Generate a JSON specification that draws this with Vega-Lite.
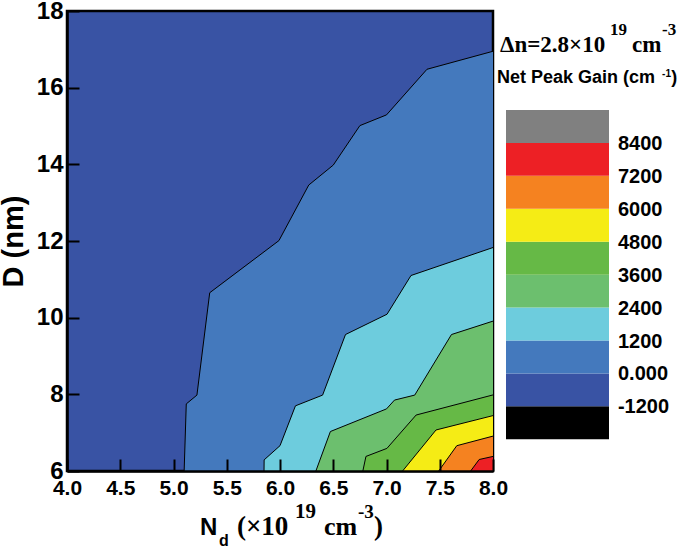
{
  "$schema": "https://vega.github.io/schema/vega-lite/v6.json",
  "width": 426,
  "height": 460,
  "autosize": "none",
  "padding": {"left": 67, "top": 11, "right": 192, "bottom": 77},
  "background": "white",
  "config": {
    "view": {"fill": "#3953A4", "stroke": "black", "strokeWidth": 2.5},
    "text": {"color": "black"}
  },
  "datasets": {
    "contours": [
      {"lvl": 0, "x": 5.10, "y": 6},
      {"lvl": 0, "x": 5.12, "y": 7.75},
      {"lvl": 0, "x": 5.22, "y": 7.98},
      {"lvl": 0, "x": 5.34, "y": 10.65},
      {"lvl": 0, "x": 5.99, "y": 12.01},
      {"lvl": 0, "x": 6.27, "y": 13.46},
      {"lvl": 0, "x": 6.50, "y": 13.98},
      {"lvl": 0, "x": 6.75, "y": 15.01},
      {"lvl": 0, "x": 7.00, "y": 15.29},
      {"lvl": 0, "x": 7.38, "y": 16.48},
      {"lvl": 0, "x": 8.00, "y": 16.95},
      {"lvl": 1200, "x": 5.85, "y": 6},
      {"lvl": 1200, "x": 5.851, "y": 6.29},
      {"lvl": 1200, "x": 6.00, "y": 6.66},
      {"lvl": 1200, "x": 6.145, "y": 7.70},
      {"lvl": 1200, "x": 6.40, "y": 7.98},
      {"lvl": 1200, "x": 6.615, "y": 9.56},
      {"lvl": 1200, "x": 7.005, "y": 10.09},
      {"lvl": 1200, "x": 7.23, "y": 11.10},
      {"lvl": 1200, "x": 8.00, "y": 11.83},
      {"lvl": 2400, "x": 6.337, "y": 6},
      {"lvl": 2400, "x": 6.473, "y": 7.03},
      {"lvl": 2400, "x": 7.00, "y": 7.62},
      {"lvl": 2400, "x": 7.075, "y": 7.85},
      {"lvl": 2400, "x": 7.265, "y": 7.98},
      {"lvl": 2400, "x": 7.61, "y": 9.56},
      {"lvl": 2400, "x": 8.00, "y": 9.91},
      {"lvl": 3600, "x": 6.778, "y": 6},
      {"lvl": 3600, "x": 6.807, "y": 6.38},
      {"lvl": 3600, "x": 7.004, "y": 6.59},
      {"lvl": 3600, "x": 7.278, "y": 7.46},
      {"lvl": 3600, "x": 8.00, "y": 7.985},
      {"lvl": 4800, "x": 7.151, "y": 6},
      {"lvl": 4800, "x": 7.465, "y": 7.07},
      {"lvl": 4800, "x": 8.00, "y": 7.445},
      {"lvl": 6000, "x": 7.49, "y": 6},
      {"lvl": 6000, "x": 7.66, "y": 6.66},
      {"lvl": 6000, "x": 8.00, "y": 6.91},
      {"lvl": 7200, "x": 7.79, "y": 6},
      {"lvl": 7200, "x": 7.87, "y": 6.30},
      {"lvl": 7200, "x": 8.00, "y": 6.38}
    ],
    "bands": [
      {"lvl": -2400, "hi": -1200},
      {"lvl": -1200, "hi": 0},
      {"lvl": 0, "hi": 1200},
      {"lvl": 1200, "hi": 2400},
      {"lvl": 2400, "hi": 3600},
      {"lvl": 3600, "hi": 4800},
      {"lvl": 4800, "hi": 6000},
      {"lvl": 6000, "hi": 7200},
      {"lvl": 7200, "hi": 8400},
      {"lvl": 8400, "hi": 9600}
    ],
    "labels": [
      {"v": 8400, "t": "8400"},
      {"v": 7200, "t": "7200"},
      {"v": 6000, "t": "6000"},
      {"v": 4800, "t": "4800"},
      {"v": 3600, "t": "3600"},
      {"v": 2400, "t": "2400"},
      {"v": 1200, "t": "1200"},
      {"v": 0, "t": "0.000"},
      {"v": -1200, "t": "-1200"}
    ]
  },
  "layer": [
    {
      "data": {"name": "contours"},
      "layer": [
        {
          "transform": [{"filter": "datum.lvl == 0"}],
          "mark": {"type": "area", "orient": "vertical", "clip": true},
          "encoding": {
            "x": {"field": "x", "type": "quantitative", "scale": {"domain": [4, 8], "nice": false, "zero": false},
              "axis": {
                "values": [4, 4.25, 4.5, 4.75, 5, 5.25, 5.5, 5.75, 6, 6.25, 6.5, 6.75, 7, 7.25, 7.5, 7.75, 8],
                "labelExpr": "datum.value % 0.5 == 0 ? format(datum.value, '.1f') : ''",
                "tickSize": {"condition": {"test": "datum.value % 0.5 == 0", "value": -12}, "value": -6},
                "tickWidth": 2, "tickColor": "black",
                "domainColor": "black", "domainWidth": 2.5,
                "labelFont": "Liberation Sans", "labelFontWeight": "bold", "labelFontSize": 21, "labelColor": "black",
                "labelPadding": 18, "labelFlush": false, "labelOverlap": false,
                "grid": false, "title": null, "zindex": 1
              }
            },
            "y": {"field": "y", "type": "quantitative", "scale": {"domain": [6, 18], "nice": false, "zero": false},
              "axis": {
                "values": [6, 7, 8, 9, 10, 11, 12, 13, 14, 15, 16, 17, 18],
                "labelExpr": "datum.value % 2 == 0 ? format(datum.value, 'd') : ''",
                "tickSize": {"condition": {"test": "datum.value % 2 == 0", "value": -12}, "value": -7},
                "tickWidth": 2, "tickColor": "black",
                "domainColor": "black", "domainWidth": 2.5,
                "labelFont": "Liberation Sans", "labelFontWeight": "bold", "labelFontSize": 24, "labelColor": "black",
                "labelPadding": 16, "labelOverlap": false,
                "grid": false,
                "title": "D (nm)", "titleFont": "Liberation Sans", "titleFontWeight": "bold", "titleFontSize": 29,
                "titleColor": "black", "titlePadding": 8, "zindex": 1
              }
            },
            "y2": {"value": "height"},
            "color": {"field": "lvl", "type": "ordinal",
              "scale": {"domain": [-2400, -1200, 0, 1200, 2400, 3600, 4800, 6000, 7200, 8400],
                "range": ["#000000", "#3953A4", "#4479BD", "#6DCCDD", "#6CBF6E", "#66B946", "#F5EC15", "#F58220", "#ED2025", "#808080"]},
              "legend": null}
          }
        },
        {
          "transform": [{"filter": "datum.lvl == 1200"}],
          "mark": {"type": "area", "orient": "vertical", "clip": true},
          "encoding": {"x": {"field": "x", "type": "quantitative"}, "y": {"field": "y", "type": "quantitative"}, "y2": {"value": "height"}, "color": {"field": "lvl", "type": "ordinal", "legend": null}}
        },
        {
          "transform": [{"filter": "datum.lvl == 2400"}],
          "mark": {"type": "area", "orient": "vertical", "clip": true},
          "encoding": {"x": {"field": "x", "type": "quantitative"}, "y": {"field": "y", "type": "quantitative"}, "y2": {"value": "height"}, "color": {"field": "lvl", "type": "ordinal", "legend": null}}
        },
        {
          "transform": [{"filter": "datum.lvl == 3600"}],
          "mark": {"type": "area", "orient": "vertical", "clip": true},
          "encoding": {"x": {"field": "x", "type": "quantitative"}, "y": {"field": "y", "type": "quantitative"}, "y2": {"value": "height"}, "color": {"field": "lvl", "type": "ordinal", "legend": null}}
        },
        {
          "transform": [{"filter": "datum.lvl == 4800"}],
          "mark": {"type": "area", "orient": "vertical", "clip": true},
          "encoding": {"x": {"field": "x", "type": "quantitative"}, "y": {"field": "y", "type": "quantitative"}, "y2": {"value": "height"}, "color": {"field": "lvl", "type": "ordinal", "legend": null}}
        },
        {
          "transform": [{"filter": "datum.lvl == 6000"}],
          "mark": {"type": "area", "orient": "vertical", "clip": true},
          "encoding": {"x": {"field": "x", "type": "quantitative"}, "y": {"field": "y", "type": "quantitative"}, "y2": {"value": "height"}, "color": {"field": "lvl", "type": "ordinal", "legend": null}}
        },
        {
          "transform": [{"filter": "datum.lvl == 7200"}],
          "mark": {"type": "area", "orient": "vertical", "clip": true},
          "encoding": {"x": {"field": "x", "type": "quantitative"}, "y": {"field": "y", "type": "quantitative"}, "y2": {"value": "height"}, "color": {"field": "lvl", "type": "ordinal", "legend": null}}
        },
        {
          "mark": {"type": "line", "color": "black", "strokeWidth": 1},
          "encoding": {"x": {"field": "x", "type": "quantitative"}, "y": {"field": "y", "type": "quantitative"}, "detail": {"field": "lvl", "type": "nominal"}}
        }
      ]
    },
    {
      "data": {"values": [{}]},
      "layer": [
        {
          "mark": {"type": "text", "text": "N", "font": "Liberation Sans", "fontWeight": "bold", "fontSize": 24, "align": "left", "baseline": "alphabetic"},
          "encoding": {
            "x": {"datum": 5.249, "type": "quantitative", "scale": {"domain": [4, 8], "range": [0, 426], "nice": false, "zero": false}, "axis": null},
            "y": {"datum": 4.33, "type": "quantitative", "scale": {"domain": [6, 18], "range": [460, 0], "nice": false, "zero": false}, "axis": null}
          }
        },
        {
          "mark": {"type": "text", "text": "d", "font": "Liberation Sans", "fontWeight": "bold", "fontSize": 16, "align": "left", "baseline": "alphabetic"},
          "encoding": {"x": {"datum": 5.427, "type": "quantitative"}, "y": {"datum": 4.043, "type": "quantitative"}}
        },
        {
          "mark": {"type": "text", "text": "(×10", "font": "Liberation Serif", "fontWeight": "bold", "fontSize": 27, "align": "left", "baseline": "alphabetic"},
          "encoding": {"x": {"datum": 5.596, "type": "quantitative"}, "y": {"datum": 4.33, "type": "quantitative"}}
        },
        {
          "mark": {"type": "text", "text": "19", "font": "Liberation Serif", "fontWeight": "bold", "fontSize": 21, "align": "left", "baseline": "alphabetic"},
          "encoding": {"x": {"datum": 6.14, "type": "quantitative"}, "y": {"datum": 4.774, "type": "quantitative"}}
        },
        {
          "mark": {"type": "text", "text": "cm", "font": "Liberation Serif", "fontWeight": "bold", "fontSize": 26, "align": "left", "baseline": "alphabetic"},
          "encoding": {"x": {"datum": 6.413, "type": "quantitative"}, "y": {"datum": 4.33, "type": "quantitative"}}
        },
        {
          "mark": {"type": "text", "text": "-3", "font": "Liberation Serif", "fontWeight": "bold", "fontSize": 19, "align": "left", "baseline": "alphabetic"},
          "encoding": {"x": {"datum": 6.732, "type": "quantitative"}, "y": {"datum": 4.774, "type": "quantitative"}}
        },
        {
          "mark": {"type": "text", "text": ")", "font": "Liberation Serif", "fontWeight": "bold", "fontSize": 27, "align": "left", "baseline": "alphabetic"},
          "encoding": {"x": {"datum": 6.883, "type": "quantitative"}, "y": {"datum": 4.33, "type": "quantitative"}}
        }
      ]
    },
    {
      "layer": [
        {
          "data": {"name": "bands"},
          "mark": {"type": "rect"},
          "encoding": {
            "x": {"datum": 0, "type": "quantitative", "scale": {"domain": [0, 1], "range": [439, 542], "nice": false, "zero": false}, "axis": null},
            "x2": {"datum": 1},
            "y": {"field": "lvl", "type": "quantitative", "scale": {"domain": [-2400, 9600], "range": [428.3, 99], "nice": false, "zero": false}, "axis": null},
            "y2": {"field": "hi"},
            "color": {"field": "lvl", "type": "ordinal", "legend": null}
          }
        },
        {
          "data": {"name": "labels"},
          "mark": {"type": "text", "font": "Liberation Sans", "fontWeight": "bold", "fontSize": 20, "align": "left", "baseline": "middle", "dy": 1},
          "encoding": {
            "x": {"datum": 1.087, "type": "quantitative"},
            "y": {"field": "v", "type": "quantitative"},
            "text": {"field": "t"}
          }
        },
        {
          "data": {"values": [{}]},
          "mark": {"type": "text", "text": "Δn=2.8×10", "font": "Liberation Serif", "fontWeight": "bold", "fontSize": 23, "align": "left", "baseline": "alphabetic"},
          "encoding": {"x": {"datum": -0.058, "type": "quantitative"}, "y": {"datum": 11714, "type": "quantitative"}}
        },
        {
          "data": {"values": [{}]},
          "mark": {"type": "text", "text": "19", "font": "Liberation Serif", "fontWeight": "bold", "fontSize": 17, "align": "left", "baseline": "alphabetic"},
          "encoding": {"x": {"datum": 1.01, "type": "quantitative"}, "y": {"datum": 12333, "type": "quantitative"}}
        },
        {
          "data": {"values": [{}]},
          "mark": {"type": "text", "text": "cm", "font": "Liberation Serif", "fontWeight": "bold", "fontSize": 23, "align": "left", "baseline": "alphabetic"},
          "encoding": {"x": {"datum": 1.223, "type": "quantitative"}, "y": {"datum": 11714, "type": "quantitative"}}
        },
        {
          "data": {"values": [{}]},
          "mark": {"type": "text", "text": "-3", "font": "Liberation Serif", "fontWeight": "bold", "fontSize": 17, "align": "left", "baseline": "alphabetic"},
          "encoding": {"x": {"datum": 1.515, "type": "quantitative"}, "y": {"datum": 12333, "type": "quantitative"}}
        },
        {
          "data": {"values": [{}]},
          "mark": {"type": "text", "text": "Net Peak Gain (cm", "font": "Liberation Sans", "fontWeight": "bold", "fontSize": 18, "align": "left", "baseline": "alphabetic"},
          "encoding": {"x": {"datum": -0.087, "type": "quantitative"}, "y": {"datum": 10584, "type": "quantitative"}}
        },
        {
          "data": {"values": [{}]},
          "mark": {"type": "text", "text": "-1", "font": "Liberation Sans", "fontWeight": "bold", "fontSize": 10, "align": "left", "baseline": "alphabetic"},
          "encoding": {"x": {"datum": 1.515, "type": "quantitative"}, "y": {"datum": 10803, "type": "quantitative"}}
        },
        {
          "data": {"values": [{}]},
          "mark": {"type": "text", "text": ")", "font": "Liberation Sans", "fontWeight": "bold", "fontSize": 18, "align": "left", "baseline": "alphabetic"},
          "encoding": {"x": {"datum": 1.605, "type": "quantitative"}, "y": {"datum": 10584, "type": "quantitative"}}
        }
      ]
    }
  ],
  "resolve": {"scale": {"x": "independent", "y": "independent"}}
}
